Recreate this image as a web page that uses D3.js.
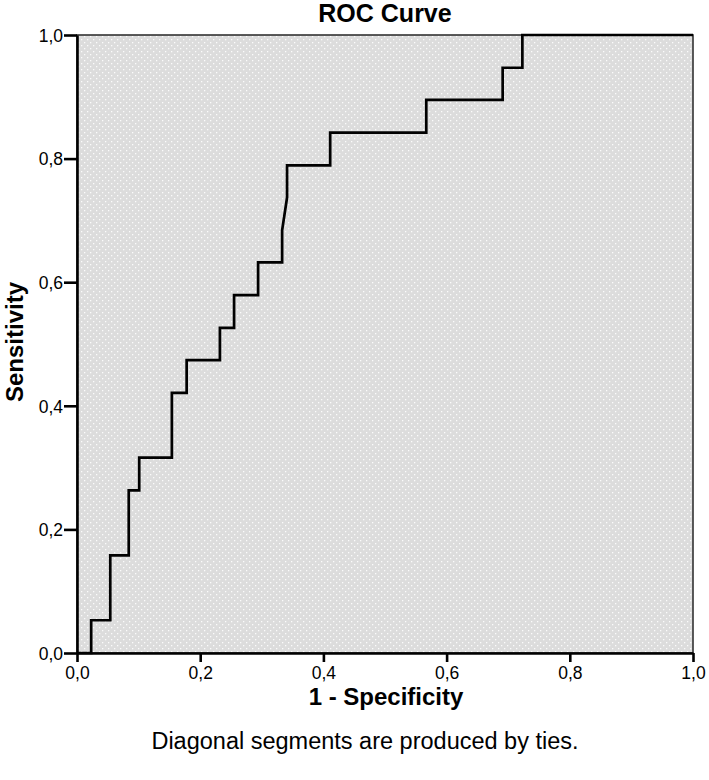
<!DOCTYPE html>
<html>
<head>
<meta charset="utf-8">
<script src="https://cdn.jsdelivr.net/npm/d3@7"></script>
<style>
  html, body { margin: 0; padding: 0; background: #fff; }
  svg { display: block; font-family: "Liberation Sans", Arial, sans-serif; }
</style>
</head>
<body>
<svg id="chart" width="709" height="780"></svg>
<script>
// ---- data ----
const fpr = [0, 0.023, 0.023, 0.054, 0.054, 0.084, 0.084, 0.101, 0.101, 0.154, 0.154, 0.178, 0.178, 0.232, 0.232, 0.255, 0.255, 0.294, 0.294, 0.333, 0.333, 0.341, 0.341, 0.411, 0.411, 0.567, 0.567, 0.691, 0.691, 0.723, 0.723, 1.0];
const tpr = [0, 0, 0.053, 0.053, 0.158, 0.158, 0.263, 0.263, 0.316, 0.316, 0.421, 0.421, 0.474, 0.474, 0.526, 0.526, 0.579, 0.579, 0.632, 0.632, 0.684, 0.737, 0.789, 0.789, 0.842, 0.842, 0.895, 0.895, 0.947, 0.947, 1, 1];
const tickValues = [0, 0.2, 0.4, 0.6, 0.8, 1.0];
const tickLabels = ["0,0", "0,2", "0,4", "0,6", "0,8", "1,0"];
const titleText = "ROC Curve";
const xLabel = "1 - Specificity";
const yLabel = "Sensitivity";
const footnote = "Diagonal segments are produced by ties.";

(function () {
const svg = d3.select("#chart");
const pLeft = 77, pRight = 693, pTop = 35, pBottom = 653;
const x = d3.scaleLinear().domain([0, 1]).range([pLeft, pRight]);
const y = d3.scaleLinear().domain([0, 1]).range([pBottom, pTop]);

// dotted background pattern
const defs = svg.append("defs");
const pat = defs.append("pattern").attr("id", "dots").attr("patternUnits", "userSpaceOnUse")
  .attr("width", 6).attr("height", 6);
pat.append("rect").attr("width", 6).attr("height", 6).attr("fill", "#dcdcdc");
pat.append("rect").attr("x", 0).attr("y", 0).attr("width", 1.3).attr("height", 1.3).attr("fill", "#fbfbfb");
pat.append("rect").attr("x", 3).attr("y", 3).attr("width", 1.3).attr("height", 1.3).attr("fill", "#fbfbfb");

svg.append("rect")
  .attr("x", pLeft).attr("y", pTop)
  .attr("width", pRight - pLeft).attr("height", pBottom - pTop)
  .attr("fill", "url(#dots)")
  .attr("stroke", "#333").attr("stroke-width", 1.6);

// axes
const xAxis = d3.axisBottom(x).tickValues(tickValues).tickFormat((d, i) => tickLabels[i]).tickSizeInner(9).tickSizeOuter(0).tickPadding(5);
const yAxis = d3.axisLeft(y).tickValues(tickValues).tickFormat((d, i) => tickLabels[i]).tickSizeInner(13).tickSizeOuter(0).tickPadding(1);

const gx = svg.append("g").attr("transform", `translate(0,${pBottom})`).call(xAxis);
const gy = svg.append("g").attr("transform", `translate(${pLeft},0)`).call(yAxis);
[gx, gy].forEach(g => {
  g.select(".domain").attr("stroke", "#000").attr("stroke-width", 2.6);
  g.selectAll(".tick line").attr("stroke", "#000").attr("stroke-width", 2.6);
  g.selectAll(".tick text").attr("fill", "#000").style("font-size", "17.5px").style("font-family", "'Liberation Sans', Arial, sans-serif");
});
gx.selectAll(".tick text").attr("dy", "0.68em");
gy.selectAll(".tick text").attr("dy", "0.36em");

// ROC curve
const pts = fpr.map((v, i) => [v, tpr[i]]);
const line = d3.line().x(d => x(d[0])).y(d => y(d[1]));
svg.append("path").datum(pts)
  .attr("d", line)
  .attr("fill", "none")
  .attr("stroke", "#000")
  .attr("stroke-width", 2.7)
  .attr("stroke-linejoin", "miter");

// texts
svg.append("text").attr("x", 385).attr("y", 22).attr("text-anchor", "middle")
  .style("font-size", "25px").style("font-weight", "bold").text(titleText);
svg.append("text").attr("x", 386).attr("y", 705).attr("text-anchor", "middle")
  .style("font-size", "24px").style("font-weight", "bold").text(xLabel);
svg.append("text").attr("transform", "translate(23,342) rotate(-90)").attr("text-anchor", "middle")
  .style("font-size", "24px").style("font-weight", "bold").text(yLabel);
svg.append("text").attr("x", 365).attr("y", 749).attr("text-anchor", "middle")
  .style("font-size", "23.5px").text(footnote);
})();
</script>
</body>
</html>
